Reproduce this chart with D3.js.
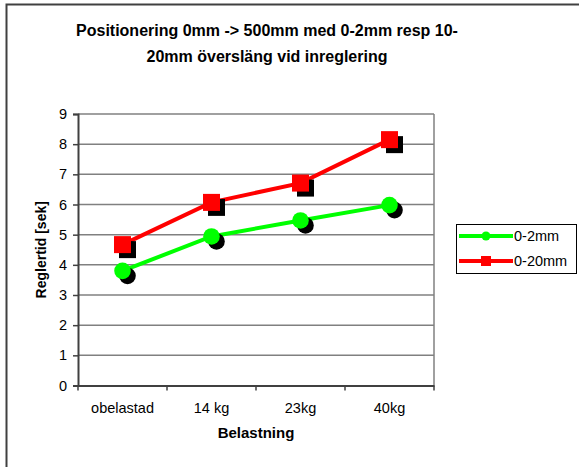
<!DOCTYPE html>
<html>
<head>
<meta charset="utf-8">
<script src="https://cdn.jsdelivr.net/npm/d3@7"></script>
<style>
  body { margin: 0; background: #fff; }
  svg { display: block; font-family: "Liberation Sans", Arial, sans-serif; }
</style>
</head>
<body>
<svg id="chart" width="579" height="467"></svg>
<script>
var categories = ["obelastad", "14 kg", "23kg", "40kg"];
var seriesNames = ["0-2mm", "0-20mm"];
var values2mm = [3.8, 4.94, 5.47, 5.98];
var values20mm = [4.67, 6.07, 6.71, 8.15];
var yTicks = [0, 1, 2, 3, 4, 5, 6, 7, 8, 9];

var svg = d3.select("#chart");

// outer frame
svg.append("rect")
  .attr("x", 6.5).attr("y", 4.5)
  .attr("width", 600).attr("height", 500)
  .attr("fill", "none").attr("stroke", "#404040").attr("stroke-width", 2);

var plotLeft = 78, plotRight = 434, plotTop = 114, plotBottom = 385.5;

var x = d3.scaleBand().domain(categories).range([plotLeft, plotRight]);
var y = d3.scaleLinear().domain([0, 9]).range([plotBottom, plotTop]);

// title
var title = svg.append("text")
  .attr("text-anchor", "middle")
  .attr("font-weight", "bold")
  .attr("font-size", 16)
  .attr("fill", "#000");
title.append("tspan").attr("x", 267).attr("y", 36).text("Positionering 0mm -> 500mm med 0-2mm resp 10-");
title.append("tspan").attr("x", 267).attr("y", 62).text("20mm översläng vid inreglering");

// gridlines
svg.append("g").selectAll("line")
  .data(yTicks.slice(1))
  .enter().append("line")
  .attr("x1", plotLeft).attr("x2", plotRight)
  .attr("y1", function(d) { return y(d); })
  .attr("y2", function(d) { return y(d); })
  .attr("stroke", "#808080").attr("stroke-width", 1.5);

// right border of plot area
svg.append("line")
  .attr("x1", plotRight).attr("x2", plotRight)
  .attr("y1", plotTop).attr("y2", plotBottom)
  .attr("stroke", "#808080").attr("stroke-width", 1.5);

// y axis
var yAxis = d3.axisLeft(y).tickValues(yTicks).tickSize(5).tickPadding(6);
var gy = svg.append("g").attr("transform", "translate(" + plotLeft + ",0)").call(yAxis);
gy.select(".domain").attr("stroke", "#404040").attr("stroke-width", 2);
gy.selectAll(".tick line").attr("stroke", "#404040").attr("stroke-width", 1.5);
gy.selectAll(".tick text").attr("font-size", 14.5).attr("fill", "#000")
  .attr("font-family", "Liberation Sans, Arial, sans-serif");

// x axis
var xAxis = d3.axisBottom(x).tickSize(0).tickPadding(17);
var gx = svg.append("g").attr("transform", "translate(0," + plotBottom + ")").call(xAxis);
gx.select(".domain").attr("stroke", "#404040").attr("stroke-width", 2);
gx.selectAll(".tick text").attr("font-size", 14.5).attr("fill", "#000")
  .attr("font-family", "Liberation Sans, Arial, sans-serif");
// tick marks between categories
var bounds = categories.map(function(c) { return x(c); }).concat([plotRight]);
svg.append("g").selectAll("line")
  .data(bounds)
  .enter().append("line")
  .attr("x1", function(d) { return d; }).attr("x2", function(d) { return d; })
  .attr("y1", plotBottom).attr("y2", plotBottom + 5)
  .attr("stroke", "#404040").attr("stroke-width", 1.5);

// axis titles
svg.append("text")
  .attr("x", 256).attr("y", 438)
  .attr("text-anchor", "middle")
  .attr("font-weight", "bold").attr("font-size", 15)
  .text("Belastning");
svg.append("text")
  .attr("transform", "translate(46," + ((plotTop + plotBottom) / 2) + ") rotate(-90)")
  .attr("text-anchor", "middle")
  .attr("font-weight", "bold").attr("font-size", 14)
  .text("Reglertid [sek]");

var cx = function(d, i) { return x(categories[i]) + x.bandwidth() / 2; };
var line = d3.line().x(cx).y(function(d) { return y(d); });

function drawSeries(vals, color, shape) {
  var g = svg.append("g");
  g.append("path").datum(vals)
    .attr("d", line)
    .attr("fill", "none").attr("stroke", color).attr("stroke-width", 4);
  var sh = 5;
  [["#000", sh], [color, 0]].forEach(function(p) {
    if (shape == "circle") {
      g.selectAll(null).data(vals).enter().append("circle")
        .attr("cx", function(d, i) { return cx(d, i) + p[1]; })
        .attr("cy", function(d) { return y(d) + p[1]; })
        .attr("r", 8.3)
        .attr("fill", p[0]);
    } else {
      g.selectAll(null).data(vals).enter().append("rect")
        .attr("x", function(d, i) { return cx(d, i) - 8.5 + p[1]; })
        .attr("y", function(d) { return y(d) - 8.5 + p[1]; })
        .attr("width", 17).attr("height", 17)
        .attr("fill", p[0]);
    }
  });
}
drawSeries(values2mm, "#00ff00", "circle");
drawSeries(values20mm, "#ff0000", "square");

// legend
var lg = svg.append("g");
lg.append("rect")
  .attr("x", 456.5).attr("y", 224.5)
  .attr("width", 120).attr("height", 49)
  .attr("fill", "#fff").attr("stroke", "#000").attr("stroke-width", 1);
var legendData = [
  { name: seriesNames[0], color: "#00ff00", shape: "circle" },
  { name: seriesNames[1], color: "#ff0000", shape: "square" }
];
legendData.forEach(function(d, i) {
  var ly = 236 + i * 25;
  lg.append("line")
    .attr("x1", 459).attr("x2", 513)
    .attr("y1", ly).attr("y2", ly)
    .attr("stroke", d.color).attr("stroke-width", 4);
  if (d.shape == "circle") {
    lg.append("circle").attr("cx", 486).attr("cy", ly).attr("r", 4.5).attr("fill", d.color);
  } else {
    lg.append("rect").attr("x", 481).attr("y", ly - 5).attr("width", 10).attr("height", 10).attr("fill", d.color);
  }
  lg.append("text")
    .attr("x", 514).attr("y", ly + 5)
    .attr("font-size", 14.5)
    .text(d.name);
});
</script>
</body>
</html>
